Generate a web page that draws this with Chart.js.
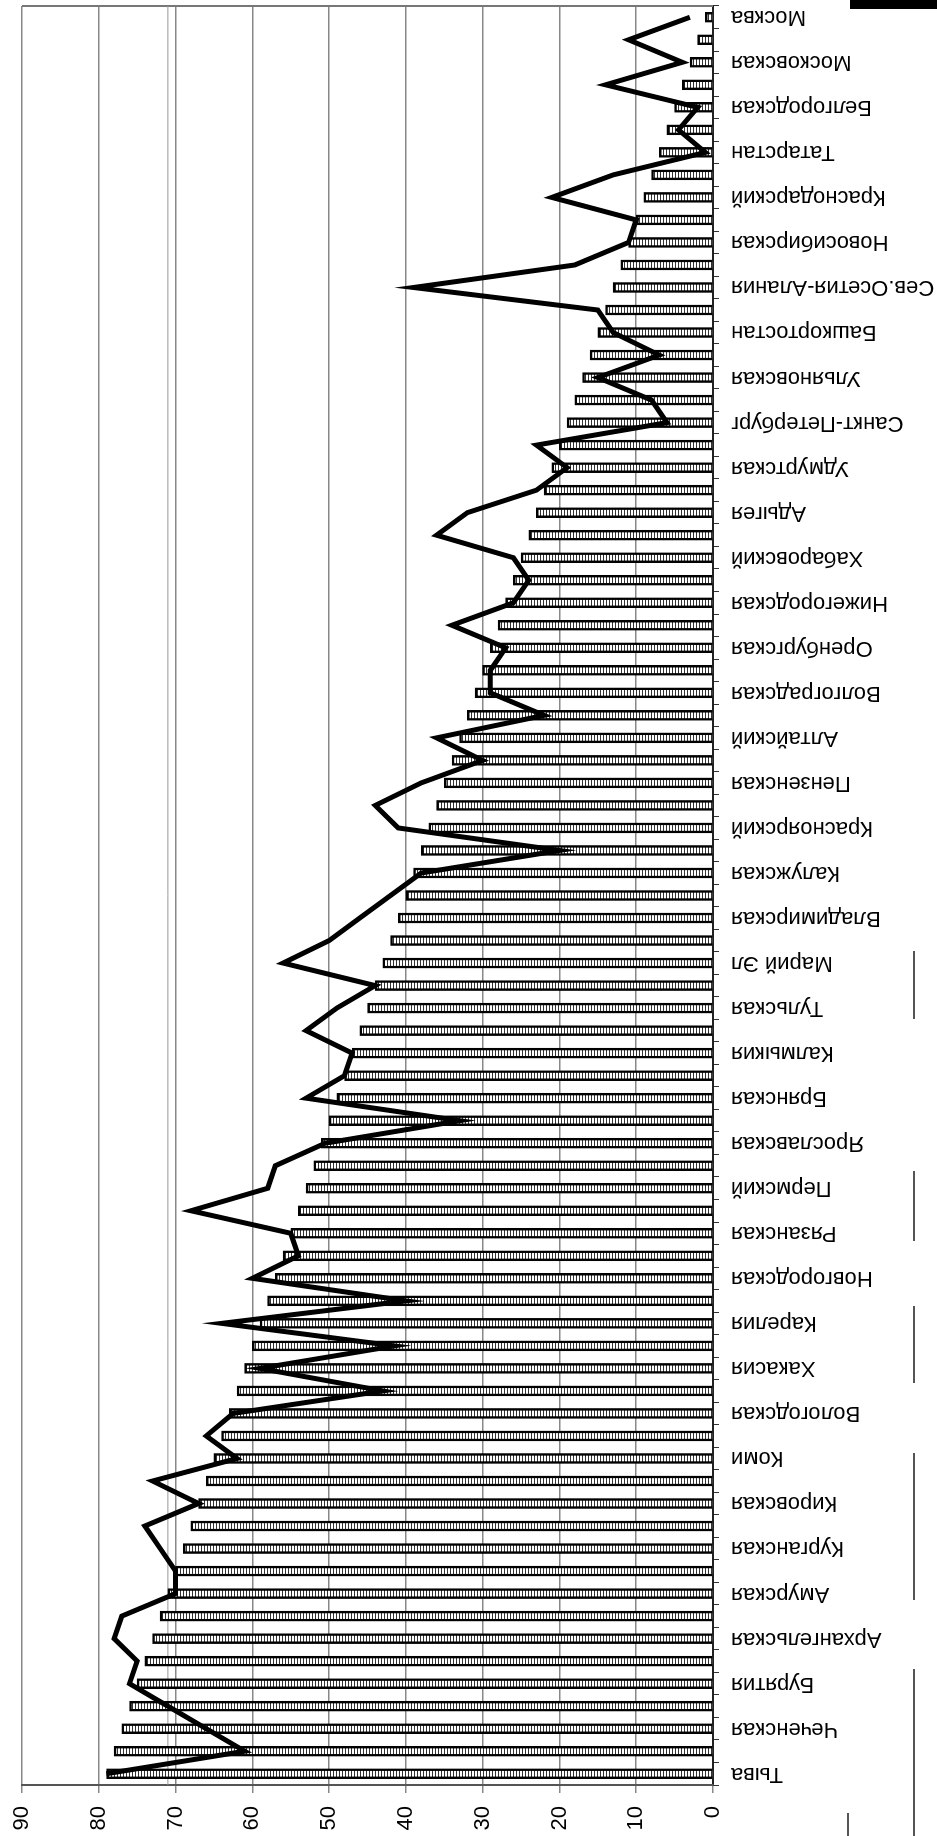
<!DOCTYPE html>
<html>
<head>
<meta charset="utf-8">
<script src="https://cdn.jsdelivr.net/npm/chart.js@4"></script>
<style>
  html, body { margin: 0; padding: 0; background: #fff; overflow: hidden; }
  body { width: 937px; height: 1836px; position: relative; }
  /* the chart is drawn lying down and turned a quarter turn, like the scan */
  #chart { position: absolute; left: 0; top: 0; transform-origin: 0 0; transform: rotate(-90deg) translateX(-1836px); }
  .mark { position: absolute; background: #555; width: 2px; }
</style>
</head>
<body>
<canvas id="chart" width="1836" height="937"></canvas>
<div class="mark" style="left:850px;top:0;width:87px;height:9px;background:#000"></div>
<div class="mark" style="left:913px;top:951px;height:68px"></div>
<div class="mark" style="left:913px;top:1171px;height:70px"></div>
<div class="mark" style="left:913px;top:1306px;height:77px"></div>
<div class="mark" style="left:913px;top:1453px;height:147px"></div>
<div class="mark" style="left:913px;top:1669px;height:167px"></div>
<div class="mark" style="left:847px;top:1813px;height:23px"></div>
<script>
const regions = [
  'Тыва', '', 'Чеченская', '', 'Бурятия', '', 'Архангельская', '', 'Амурская', '',
  'Курганская', '', 'Кировская', '', 'Коми', '', 'Вологодская', '', 'Хакасия', '',
  'Карелия', '', 'Новгородская', '', 'Рязанская', '', 'Пермский', '', 'Ярославская', '',
  'Брянская', '', 'Калмыкия', '', 'Тульская', '', 'Марий Эл', '', 'Владимирская', '',
  'Калужская', '', 'Красноярский', '', 'Пензенская', '', 'Алтайский', '', 'Волгоградская', '',
  'Оренбургская', '', 'Нижегородская', '', 'Хабаровский', '', 'Адыгея', '', 'Удмуртская', '',
  'Санкт-Петербург', '', 'Ульяновская', '', 'Башкортостан', '', 'Сев.Осетия-Алания', '', 'Новосибирская', '',
  'Краснодарский', '', 'Татарстан', '', 'Белгородская', '', 'Московская', '', 'Москва'
];

const rankValues = [
  79, 78, 77, 76, 75, 74, 73, 72, 71, 70,
  69, 68, 67, 66, 65, 64, 63, 62, 61, 60,
  59, 58, 57, 56, 55, 54, 53, 52, 51, 50,
  49, 48, 47, 46, 45, 44, 43, 42, 41, 40,
  39, 38, 37, 36, 35, 34, 33, 32, 31, 30,
  29, 28, 27, 26, 25, 24, 23, 22, 21, 20,
  19, 18, 17, 16, 15, 14, 13, 12, 11, 10,
  9, 8, 7, 6, 5, 4, 3, 2, 1
];

const lineValues = [
  79, 61, 66, 71, 76, 75, 78, 77, 70, 70,
  72, 74, 67, 73, 62, 66, 62.5, 43, 59, 41.5,
  64, 40, 60, 54, 55, 68, 58, 57, 50.5, 33,
  53, 48, 47, 53, 49, 44, 56, 50, 46, 42,
  38, 20, 41, 44, 38, 30, 36, 22, 29, 29,
  27, 34, 26, 24, 26, 36, 32, 23, 19, 23,
  6, 8, 15, 7, 13, 15, 39, 18, 11, 10,
  21, 13, 1, 4.5, 2, 14, 4, 11, 3
];

const valueTicks = [0, 10, 20, 30, 40, 50, 60, 70, 80, 90];

const FONT = "'Liberation Sans', Arial, sans-serif";

// hatched bar fill: thin dark stripes across the bar
function stripes() {
  const c = document.createElement('canvas');
  c.width = 4; c.height = 3;
  const g = c.getContext('2d');
  g.fillStyle = '#fff'; g.fillRect(0, 0, 4, 3);
  g.fillStyle = '#333'; g.fillRect(0, 0, 4, 1);
  return g.createPattern(c, 'repeat');
}

// closing line of the plot box, plus the doubled grid line the scan shows near 70
const frame = {
  id: 'frame',
  beforeDatasetsDraw(chart) {
    const { ctx, chartArea: a } = chart;
    const yDouble = chart.scales.y.getPixelForValue(71);
    ctx.save();
    ctx.strokeStyle = '#777';
    ctx.lineWidth = 2;
    ctx.beginPath();
    ctx.moveTo(a.right, a.top);
    ctx.lineTo(a.right, a.bottom);
    ctx.stroke();
    ctx.strokeStyle = '#999';
    ctx.lineWidth = 1;
    ctx.beginPath();
    ctx.moveTo(a.left, yDouble);
    ctx.lineTo(a.right, yDouble);
    ctx.stroke();
    ctx.restore();
  }
};

new Chart(document.getElementById('chart'), {
  data: {
    labels: regions,
    datasets: [
      {
        type: 'line',
        data: lineValues,
        borderColor: '#000',
        borderWidth: 5,
        pointRadius: 0,
        tension: 0,
        order: 0
      },
      {
        type: 'bar',
        data: rankValues,
        backgroundColor: stripes(),
        borderColor: '#000',
        borderWidth: 2.5,
        barThickness: 10,
        order: 1
      }
    ]
  },
  options: {
    responsive: false,
    animation: false,
    layout: { padding: { top: 22, right: 6, left: 0, bottom: 0 } },
    plugins: { legend: { display: false }, tooltip: { enabled: false } },
    scales: {
      x: {
        type: 'category',
        offset: true,
        grid: { drawOnChartArea: false, drawTicks: true, tickLength: 6, offset: true, color: '#333' },
        border: { color: '#222', width: 2 },
        ticks: { autoSkip: false, minRotation: 90, maxRotation: 90, padding: 12, color: '#000', font: { family: FONT, size: 22 } },
        afterFit: s => { s.height = 224; s.paddingLeft = 0; s.paddingRight = 0; }
      },
      y: {
        min: 0,
        max: 90,
        afterBuildTicks: s => { s.ticks = valueTicks.map(v => ({ value: v })); },
        grid: { color: '#888', lineWidth: 1.5, tickLength: 8 },
        border: { color: '#555', width: 2 },
        ticks: { padding: 13, color: '#000', font: { family: FONT, size: 22 } },
        afterFit: s => { s.width = 51; s.paddingTop = 0; s.paddingBottom = 0; }
      }
    }
  },
  plugins: [frame]
});
</script>
</body>
</html>
